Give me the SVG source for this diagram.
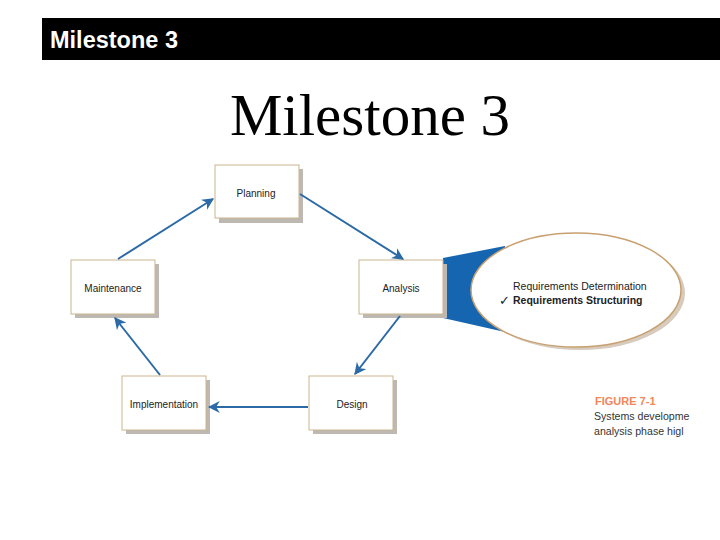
<svg xmlns="http://www.w3.org/2000/svg" width="720" height="540" viewBox="0 0 720 540">
<style>
.box{fill:#fff;stroke:#c9b58c;stroke-width:1}
.sh{fill:#bdb8b2}
.lbl{font-family:"Liberation Sans",Arial,sans-serif;font-size:10px;fill:#222;text-anchor:middle}
.con{stroke:#2b6aa6;stroke-width:2;fill:none;marker-end:url(#ah)}
.cap{font-family:"Liberation Sans",Arial,sans-serif;font-size:10.6px;fill:#333}
</style>
<defs>
<marker id="ah" viewBox="0 0 10 10" refX="9" refY="5" markerWidth="6" markerHeight="6" orient="auto" markerUnits="strokeWidth">
<path d="M0,0 L10,5 L0,10 L3,5 Z" fill="#2b6aa6"/>
</marker>
</defs>
<rect x="0" y="0" width="720" height="540" fill="#fff"/>
<g id="header">
<rect x="42" y="18" width="678" height="42" fill="#000"/>
<text x="50" y="48" font-family="Liberation Sans,Arial,sans-serif" font-size="23.5" font-weight="bold" fill="#fff">Milestone 3</text>
</g>
<text x="370" y="135" font-family="Liberation Serif,Times New Roman,serif" font-size="59" fill="#000" text-anchor="middle">Milestone 3</text>

<g id="callout">
<polygon points="443,258 505,246 505,332 443,318" fill="#1565b0"/>
<ellipse cx="580" cy="293" rx="105" ry="57" fill="#d6cbbd"/>
<ellipse cx="576" cy="290" rx="105" ry="57" fill="#fff" stroke="#c8a070" stroke-width="1.5"/>
<text x="513" y="290" font-family="Liberation Sans,Arial,sans-serif" font-size="10.5" fill="#222">Requirements Determination</text>
<text x="499" y="305" font-family="DejaVu Sans,sans-serif" font-size="13" fill="#222">✓</text>
<text x="513" y="304" font-family="Liberation Sans,Arial,sans-serif" font-size="10.5" font-weight="bold" fill="#222">Requirements Structuring</text>
</g>

<g id="planning">
<rect class="sh" x="219" y="169" width="84" height="54"/>
<rect class="box" x="215" y="165" width="84" height="53"/>
<text class="lbl" x="256" y="197">Planning</text>
</g>
<g id="maintenance">
<rect class="sh" x="75" y="264" width="84" height="54"/>
<rect class="box" x="71" y="260" width="84" height="54"/>
<text class="lbl" x="113" y="292">Maintenance</text>
</g>
<g id="analysis">
<rect class="sh" x="363" y="264" width="84" height="54"/>
<rect class="box" x="359" y="260" width="84" height="54"/>
<text class="lbl" x="401" y="292">Analysis</text>
</g>
<g id="implementation">
<rect class="sh" x="126" y="380" width="84" height="54"/>
<rect class="box" x="122" y="376" width="84" height="54"/>
<text class="lbl" x="164" y="408">Implementation</text>
</g>
<g id="design">
<rect class="sh" x="313" y="380" width="84" height="54"/>
<rect class="box" x="309" y="376" width="84" height="54"/>
<text class="lbl" x="352" y="408">Design</text>
</g>

<g id="connectors">
<line class="con" x1="118" y1="259" x2="213" y2="199"/>
<line class="con" x1="300" y1="194" x2="403" y2="259"/>
<line class="con" x1="400" y1="316" x2="355" y2="374"/>
<line class="con" x1="308" y1="407" x2="209" y2="407"/>
<line class="con" x1="160" y1="375" x2="115" y2="318"/>
</g>

<g id="caption">
<text x="595" y="405" font-family="Liberation Sans,Arial,sans-serif" font-size="11" font-weight="bold" fill="#f0875a">FIGURE 7-1</text>
<text class="cap" x="594" y="420">Systems developme</text>
<text class="cap" x="594" y="435">analysis phase higl</text>
</g>
</svg>
